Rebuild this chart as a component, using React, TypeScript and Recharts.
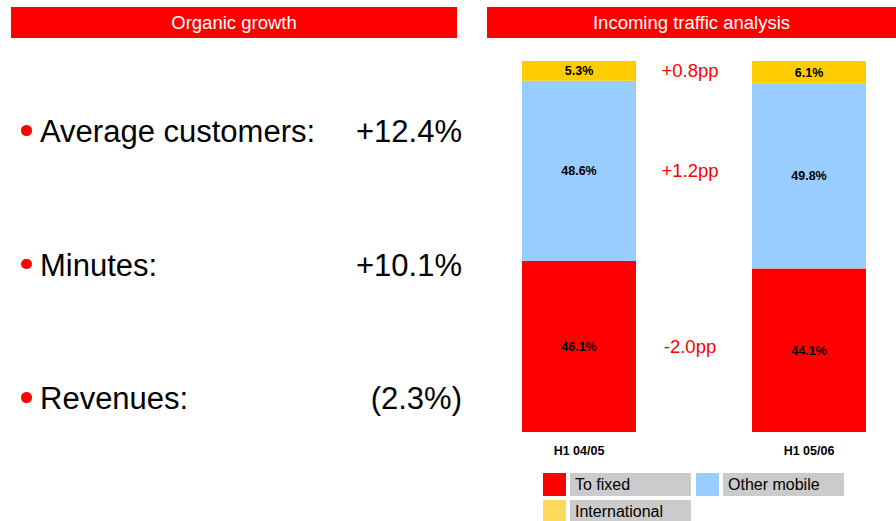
import { Bar, BarChart, LabelList, XAxis, YAxis } from "recharts";

const periods = ["H1 04/05", "H1 05/06"];
const toFixed = [46.1, 44.1];
const otherMobile = [48.6, 49.8];
const international = [5.3, 6.1];

const growthLabels = ["Average customers:", "Minutes:", "Revenues:"];
const growthValues = ["+12.4%", "+10.1%", "(2.3%)"];

const seriesKeys = ["toFixed", "otherMobile", "international"];
const seriesNames = ["To fixed", "Other mobile", "International"];
const barColors = ["#ff0000", "#99ccff", "#ffcc00"];
const legendColors = ["#ff0000", "#99ccff", "#ffd95a"];

const data = periods.map((period, i) => ({
  period,
  toFixed: toFixed[i],
  otherMobile: otherMobile[i],
  international: international[i],
}));

const seriesValues = [toFixed, otherMobile, international];

function ppText(series: number[]) {
  const d = Math.round((series[1] - series[0]) * 10) / 10;
  return (d >= 0 ? "+" : "-") + Math.abs(d).toFixed(1) + "pp";
}

const font = "'Liberation Sans', Arial, sans-serif";

function Header({ left, width, title }: { left: number; width: number; title: string }) {
  return (
    <div
      style={{
        position: "absolute",
        left,
        top: 7,
        width,
        height: 31,
        lineHeight: "31px",
        background: "#ff0000",
        color: "#fff",
        fontSize: 18.5,
        textAlign: "center",
      }}
    >
      {title}
    </div>
  );
}

function makeDeltaLabel(seriesIndex: number) {
  return (props: any) => {
    const { x, y, width, height, index } = props;
    if (index !== 0) return null;
    return (
      <text
        x={Number(x) + Number(width) + 54}
        y={Number(y) + Number(height) / 2}
        textAnchor="middle"
        dominantBaseline="central"
        fill="#ff0000"
        fontSize={18.5}
        fontFamily={font}
      >
        {ppText(seriesValues[seriesIndex])}
      </text>
    );
  };
}

export default function App() {
  return (
    <div
      style={{
        position: "absolute",
        left: 0,
        top: 0,
        width: 896,
        height: 521,
        overflow: "hidden",
        background: "#fff",
        fontFamily: font,
      }}
    >
      <Header left={11} width={446} title="Organic growth" />
      <Header left={487} width={409} title="Incoming traffic analysis" />

      {growthLabels.map((label, i) => {
        const top = 116 + i * 133.5;
        return (
          <div key={label}>
            <div
              style={{
                position: "absolute",
                left: 21,
                top: top + 9,
                width: 10.5,
                height: 10.5,
                borderRadius: "50%",
                background: "#ff0000",
              }}
            />
            <div
              style={{
                position: "absolute",
                left: 40,
                top,
                fontSize: 31,
                lineHeight: "31px",
                color: "#000",
                whiteSpace: "nowrap",
              }}
            >
              {label}
            </div>
            <div
              style={{
                position: "absolute",
                right: 896 - 462,
                top,
                fontSize: 31,
                lineHeight: "31px",
                color: "#000",
                whiteSpace: "nowrap",
              }}
            >
              {growthValues[i]}
            </div>
          </div>
        );
      })}

      <div style={{ position: "absolute", left: 464, top: 0 }}>
        <BarChart
          width={460}
          height={521}
          data={data}
          margin={{ top: 61, right: 0, bottom: 59, left: 0 }}
        >
          <XAxis
            dataKey="period"
            height={30}
            axisLine={false}
            tickLine={false}
            tickMargin={8}
            interval={0}
            tick={{ fill: "#000", fontSize: 12.5, fontWeight: "bold", fontFamily: font }}
          />
          <YAxis hide domain={[0, 100]} />
          {seriesKeys.map((key, i) => (
            <Bar
              key={key}
              dataKey={key}
              name={seriesNames[i]}
              stackId="a"
              fill={barColors[i]}
              barSize={114}
              isAnimationActive={false}
            >
              <LabelList
                dataKey={key}
                position="center"
                formatter={(v: any) => `${Number(v).toFixed(1)}%`}
                fill="#000"
                fontSize={12.5}
                fontWeight="bold"
                fontFamily={font}
              />
              <LabelList dataKey={key} content={makeDeltaLabel(i)} />
            </Bar>
          ))}
        </BarChart>
      </div>

      <div
        style={{
          position: "absolute",
          left: 543,
          top: 473,
          display: "grid",
          gridTemplateColumns: "150px 150px",
          rowGap: 4,
          columnGap: 3,
        }}
      >
        {seriesNames.map((name, i) => (
          <div key={name} style={{ display: "flex", gap: 4, height: 22.5 }}>
            <div style={{ width: 23, height: 22.5, background: legendColors[i] }} />
            <div
              style={{
                width: 121,
                height: 22.5,
                lineHeight: "23px",
                background: "#cbcbcb",
                color: "#000",
                fontSize: 16,
                paddingLeft: 5,
                boxSizing: "border-box",
                whiteSpace: "nowrap",
              }}
            >
              {name}
            </div>
          </div>
        ))}
      </div>
    </div>
  );
}
